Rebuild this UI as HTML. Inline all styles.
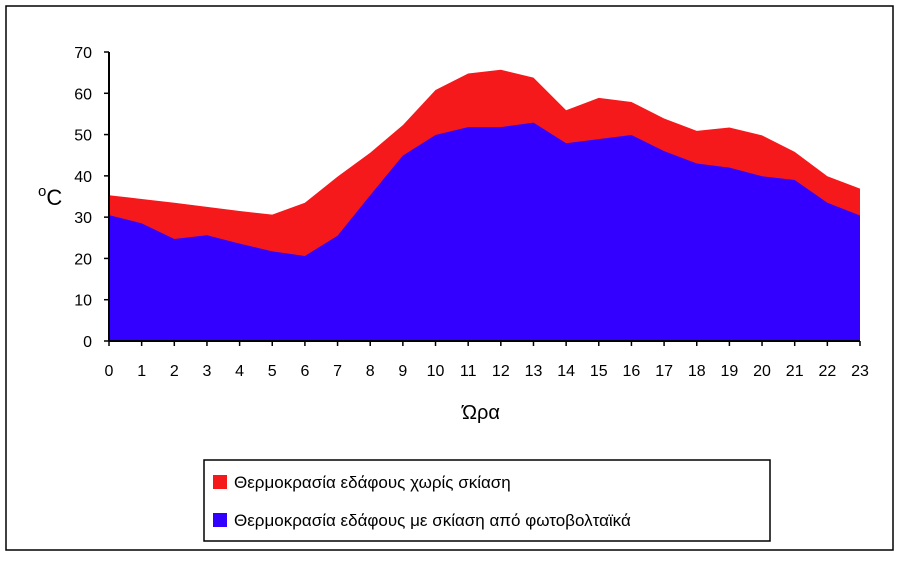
<!DOCTYPE html>
<html><head><meta charset="utf-8">
<style>
html,body{margin:0;padding:0;background:#fff;}
svg{display:block;font-family:"Liberation Sans",Arial,sans-serif;}
</style></head>
<body>
<svg id="chart" width="906" height="561" viewBox="0 0 906 561">
<rect x="6" y="6" width="887" height="544" fill="#fff" stroke="#000" stroke-width="1.5"/>
<g id="plot"></g>
<g id="axes"></g>
<text x="38" y="205" font-size="22"><tspan font-size="15" dy="-9">o</tspan><tspan dy="9">C</tspan></text>
<text x="481" y="419" font-size="20" text-anchor="middle">Ώρα</text>
<g>
<rect x="204" y="460" width="566" height="81" fill="#fff" stroke="#000" stroke-width="1.5"/>
<rect x="213" y="475" width="14" height="14" fill="#f5191b"/>
<text x="234" y="488" font-size="17">Θερμοκρασία εδάφους χωρίς σκίαση</text>
<rect x="213" y="513" width="14" height="14" fill="#3300ff"/>
<text x="234" y="526" font-size="17">Θερμοκρασία εδάφους με σκίαση από φωτοβολταϊκά</text>
</g>
</svg>
<script>
const hours = [0,1,2,3,4,5,6,7,8,9,10,11,12,13,14,15,16,17,18,19,20,21,22,23];
const unshaded = [35.3,34.4,33.5,32.5,31.5,30.6,33.5,39.8,45.6,52.3,60.8,64.8,65.7,63.8,55.9,58.9,57.9,53.9,50.9,51.7,49.8,45.8,39.9,36.9];
const shaded = [30.5,28.5,24.7,25.6,23.6,21.7,20.6,25.5,35.3,44.9,49.9,51.8,51.8,52.9,47.9,48.9,49.9,46,43,42,39.9,39,33.5,30.4];
const yTicks = [0,10,20,30,40,50,60,70];

const NS = "http://www.w3.org/2000/svg";
const X0 = 109, X1 = 860, Y0 = 341, Y1 = 52, YMAX = 70;
function xs(i){ return X0 + (X1 - X0) * i / (hours.length - 1); }
function ys(v){ return Y0 - (Y0 - Y1) * v / YMAX; }
function mk(tag, attrs, parent){ const e = document.createElementNS(NS, tag); for (const k in attrs) e.setAttribute(k, attrs[k]); parent.appendChild(e); return e; }

const plot = document.getElementById('plot');
const axes = document.getElementById('axes');

function area(vals, color){
  let d = 'M' + xs(0) + ',' + Y0;
  vals.forEach((v, i) => { d += ' L' + xs(i).toFixed(2) + ',' + ys(v).toFixed(2); });
  d += ' L' + xs(vals.length - 1) + ',' + Y0 + ' Z';
  return mk('path', {d: d, fill: color}, plot);
}
const a1 = area(unshaded, '#f5191b');


const a2 = area(shaded, '#3300ff');



const yl = mk('line', {x1: X0, y1: Y1, x2: X0, y2: Y0, stroke: '#000', 'stroke-width': 2}, axes);


const xl = mk('line', {x1: X0, y1: Y0, x2: X1, y2: Y0, stroke: '#000', 'stroke-width': 2}, axes);



yTicks.forEach(t => {
  const y = ys(t);
  const tk = mk('line', {x1: X0 - 5, y1: y, x2: X0, y2: y, stroke: '#000', 'stroke-width': 1.5}, axes);
  
  
  const lb = mk('text', {x: 92, y: y + 6, 'font-size': 16, 'text-anchor': 'end'}, axes);
  lb.textContent = t;
  
  
});
hours.forEach((h, i) => {
  const x = xs(i);
  const tk = mk('line', {x1: x, y1: Y0, x2: x, y2: Y0 + 5, stroke: '#000', 'stroke-width': 1.5}, axes);
  
  
  const lb = mk('text', {x: x, y: 376, 'font-size': 16, 'text-anchor': 'middle'}, axes);
  lb.textContent = h;
  
  
});
</script>
</body></html>
